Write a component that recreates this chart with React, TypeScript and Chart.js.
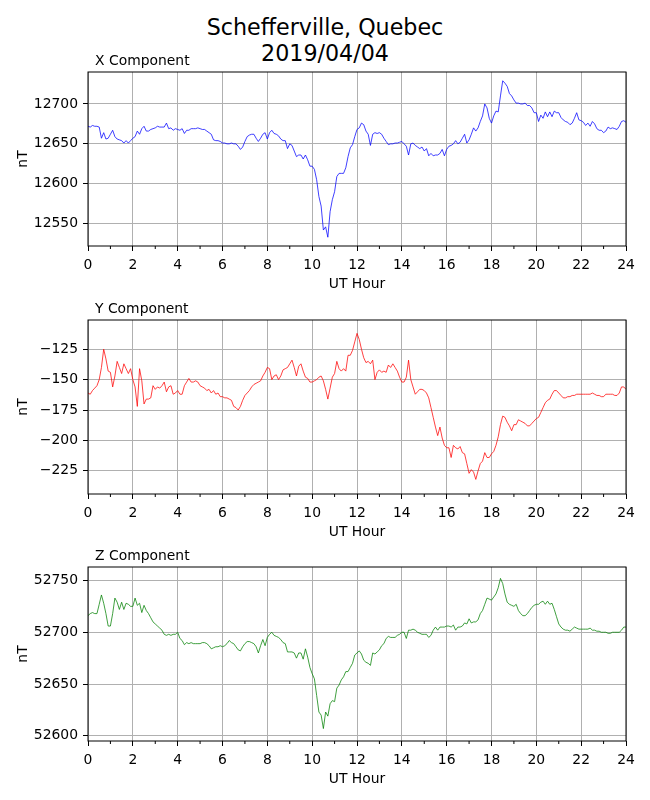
import React, { useEffect, useRef } from 'react';
import { Chart, registerables } from 'chart.js';

Chart.register(...registerables);

// samples every 6 minutes, 00:00 to 24:00 UT
const STEP_HOURS = 0.1;

const HOUR_TICKS = [0, 2, 4, 6, 8, 10, 12, 14, 16, 18, 20, 22, 24];
const MINOR_HOUR_TICKS = [1, 3, 5, 7, 9, 11, 13, 15, 17, 19, 21, 23];

const X_TICKS = [12550, 12600, 12650, 12700];
const Y_TICKS = [-225, -200, -175, -150, -125];
const Z_TICKS = [52600, 52650, 52700, 52750];

const X_VALUES = [
  12672, 12671, 12673, 12672, 12672, 12671, 12657, 12664, 12656, 12657,
  12662, 12667, 12659, 12656, 12655, 12654, 12651, 12654, 12651, 12654,
  12657, 12659, 12666, 12662, 12669, 12672, 12666, 12666, 12668, 12669,
  12670, 12672, 12671, 12671, 12671, 12676, 12669, 12670, 12667, 12669,
  12668, 12667, 12669, 12663, 12667, 12667, 12669, 12669, 12669, 12670,
  12669, 12668, 12668, 12666, 12664, 12662, 12655, 12654, 12654, 12653,
  12651, 12651, 12650, 12650, 12651, 12650, 12650, 12647, 12643, 12646,
  12653, 12659, 12661, 12662, 12662, 12657, 12653, 12657, 12662, 12664,
  12656, 12664, 12667, 12663, 12662, 12660, 12656, 12654, 12654, 12644,
  12650, 12648, 12641, 12634, 12636, 12636, 12631, 12636, 12630, 12622,
  12622, 12618, 12605, 12584, 12572, 12542, 12546, 12533, 12565, 12580,
  12590, 12609, 12613, 12613, 12613, 12620, 12634, 12645, 12649, 12659,
  12668, 12670, 12676, 12674, 12666, 12662, 12648, 12662, 12664, 12663,
  12664, 12662, 12657, 12653, 12649, 12650, 12650, 12651, 12651, 12652,
  12653, 12650, 12647, 12636, 12650, 12651, 12648, 12646, 12644, 12646,
  12641, 12644, 12635, 12638, 12635, 12636, 12636, 12638, 12643, 12635,
  12643, 12647, 12648, 12650, 12654, 12650, 12652, 12657, 12662, 12651,
  12655, 12662, 12670, 12666, 12670, 12678, 12685, 12700, 12695, 12682,
  12676, 12685, 12691, 12690, 12710, 12729, 12726, 12722, 12713, 12710,
  12705, 12701, 12701, 12700, 12700, 12701, 12698, 12698, 12695, 12689,
  12689, 12678, 12686, 12682, 12690, 12684, 12690, 12684, 12691, 12689,
  12689, 12683, 12680, 12678, 12677, 12674, 12676, 12682, 12689, 12680,
  12679, 12677, 12673, 12676, 12672, 12678, 12675, 12669, 12667, 12667,
  12664, 12666, 12671, 12669, 12670, 12669, 12668, 12672, 12678, 12679,
  12677,
];

const Y_VALUES = [
  -161, -162, -159, -157, -155, -150, -140, -125, -133, -143,
  -144, -156, -147, -135, -140, -145, -137, -141, -145, -141,
  -150, -156, -172, -141, -151, -170, -166, -166, -165, -155,
  -158, -156, -157, -155, -152, -160, -156, -155, -162, -161,
  -159, -162, -162, -155, -152, -149, -152, -152, -151, -152,
  -155, -156, -157, -159, -158, -161, -159, -162, -161, -164,
  -164, -165, -165, -166, -167, -172, -173, -175, -172, -167,
  -163, -161, -159, -156, -154, -153, -152, -151, -147, -144,
  -140, -141, -150, -147, -146, -150, -147, -142, -141, -140,
  -137, -134, -140, -147, -139, -137, -143, -148, -149, -152,
  -152, -151, -150, -148, -147, -151, -158, -166, -157, -148,
  -145, -135, -141, -143, -141, -143, -130, -130, -126, -119,
  -112, -117, -125, -132, -136, -135, -137, -134, -150, -144,
  -142, -144, -143, -144, -138, -140, -137, -140, -143, -148,
  -152, -152, -148, -134, -150, -156, -162, -160, -158, -158,
  -159, -161, -165, -173, -181, -189, -196, -189, -198, -204,
  -206, -206, -214, -204, -206, -207, -205, -210, -211, -219,
  -227, -224, -226, -232, -225, -219, -217, -210, -214, -214,
  -211, -209, -204, -197, -187, -180, -181, -185, -188, -192,
  -187, -187, -183, -184, -185, -186, -188, -188, -186, -184,
  -182, -181, -177, -173, -169, -167, -166, -162, -159, -159,
  -161, -163, -165, -165, -164, -164, -163, -163, -162, -162,
  -162, -162, -162, -162, -162, -161, -162, -163, -163, -164,
  -164, -162, -162, -162, -162, -163, -163, -161, -156, -156,
  -158,
];

const Z_VALUES = [
  52716, 52718, 52719, 52718, 52718, 52727, 52736, 52728, 52718, 52706,
  52706, 52718, 52733, 52729, 52722, 52729, 52722, 52728, 52727, 52725,
  52725, 52733, 52726, 52728, 52719, 52726, 52721, 52718, 52714, 52710,
  52708, 52706, 52704, 52702, 52698, 52697, 52698, 52697, 52698, 52698,
  52700, 52694, 52692, 52688, 52690, 52689, 52690, 52689, 52689, 52689,
  52689, 52690, 52690, 52689, 52687, 52684, 52685, 52686, 52686, 52687,
  52686, 52687, 52689, 52692, 52690, 52689, 52686, 52683, 52682, 52686,
  52689, 52691, 52691, 52690, 52689, 52686, 52680, 52687, 52693, 52687,
  52695, 52698, 52700, 52697, 52696, 52695, 52693, 52690, 52689, 52681,
  52681, 52681, 52680, 52675, 52680, 52680, 52674, 52684, 52676, 52666,
  52660, 52655, 52639, 52623, 52620, 52607, 52623, 52619, 52631, 52634,
  52633, 52646, 52649, 52654, 52657, 52662, 52662, 52666, 52670, 52678,
  52680, 52682, 52679, 52673, 52671, 52670, 52668, 52680, 52679, 52681,
  52683, 52687, 52689, 52694, 52696, 52695, 52695, 52695, 52697, 52698,
  52700, 52700, 52694, 52702, 52702, 52703, 52702, 52700, 52699, 52698,
  52698, 52698, 52695, 52697, 52702, 52705, 52702, 52705, 52705, 52705,
  52706, 52706, 52705, 52707, 52702, 52705, 52705, 52706, 52709, 52708,
  52713, 52709, 52710, 52710, 52712, 52718, 52721, 52727, 52733, 52732,
  52731, 52734, 52737, 52743, 52752, 52747, 52737, 52729, 52727, 52726,
  52725, 52727, 52721, 52718, 52716, 52716, 52718, 52721, 52724, 52726,
  52727, 52727, 52729, 52730, 52727, 52730, 52727, 52728, 52722, 52715,
  52708, 52705, 52703, 52702, 52702, 52701, 52703, 52705, 52704, 52703,
  52703, 52703, 52703, 52703, 52704, 52702, 52702, 52701, 52701, 52700,
  52700, 52700, 52699, 52699, 52700, 52700, 52700, 52700, 52702, 52705,
  52705,
];

const FONT = 'DejaVu Sans';
const TEXT_SIZE = 13.9;
const GRID_GREY = '#b0b0b0';

// each panel canvas: room above the plot for the label, room below for the x axis
const TOP_ROOM = 30;
const PLOT_HEIGHT = 174;
const AXIS_ROOM = 47;
const Y_AXIS_WIDTH = 88;
const RIGHT_ROOM = 24;

const fmtTick = (v: number) => (v < 0 ? '\u2212' + Math.abs(v) : String(v));

// box round the plot, minor hour ticks and the "X Component" label
const panelDecor = {
  id: 'panelDecor',
  afterDraw(chart: any, _args: any, opts: any) {
    const { ctx, chartArea: a, scales } = chart;
    ctx.save();
    ctx.strokeStyle = '#000';
    ctx.lineWidth = 1;
    ctx.strokeRect(a.left, a.top, a.right - a.left, a.bottom - a.top);
    ctx.beginPath();
    for (const h of MINOR_HOUR_TICKS) {
      const px = scales.x.getPixelForValue(h);
      ctx.moveTo(px, a.bottom);
      ctx.lineTo(px, a.bottom + 3);
    }
    ctx.stroke();
    ctx.fillStyle = '#000';
    ctx.font = `${TEXT_SIZE}px "${FONT}"`;
    ctx.textAlign = 'left';
    ctx.textBaseline = 'middle';
    ctx.fillText(opts.text, a.left + 7, a.top - 11);
    ctx.restore();
  },
};

type PanelProps = {
  top: number;
  label: string;
  values: number[];
  color: string;
  yMin: number;
  yMax: number;
  yTicks: number[];
};

const Panel: React.FC<PanelProps> = ({ top, label, values, color, yMin, yMax, yTicks }) => {
  const canvasRef = useRef<HTMLCanvasElement>(null);
  const chartInstance = useRef<Chart | null>(null);

  useEffect(() => {
    const ctx = canvasRef.current?.getContext('2d');
    if (!ctx) return;
    if (chartInstance.current) chartInstance.current.destroy();

    const font = { family: FONT, size: TEXT_SIZE };
    const grid = { color: GRID_GREY, lineWidth: 1, tickColor: '#000', tickLength: 5, tickWidth: 1 };

    chartInstance.current = new Chart(ctx, {
      type: 'line',
      data: {
        datasets: [
          {
            data: values.map((v, i) => ({ x: i * STEP_HOURS, y: v })),
            borderColor: color,
            borderWidth: 0.75,
            pointRadius: 0,
            tension: 0,
            fill: false,
          },
        ],
      },
      plugins: [panelDecor],
      options: {
        animation: false,
        responsive: true,
        maintainAspectRatio: false,
        layout: { padding: { left: 0, right: RIGHT_ROOM, top: TOP_ROOM, bottom: 0 } },
        plugins: {
          legend: { display: false },
          tooltip: { enabled: false },
          panelDecor: { text: label },
        } as any,
        scales: {
          x: {
            type: 'linear',
            min: 0,
            max: 24,
            afterBuildTicks: (s: any) => {
              s.ticks = HOUR_TICKS.map((v) => ({ value: v }));
            },
            afterFit: (s: any) => {
              s.height = AXIS_ROOM;
            },
            grid,
            border: { display: false },
            ticks: {
              color: '#000',
              font,
              padding: 6,
              maxRotation: 0,
              autoSkip: false,
              callback: (v: any) => String(v),
            },
            title: { display: true, text: 'UT Hour', color: '#000', font, padding: 0 },
          },
          y: {
            type: 'linear',
            min: yMin,
            max: yMax,
            afterBuildTicks: (s: any) => {
              s.ticks = yTicks.map((v) => ({ value: v }));
            },
            afterFit: (s: any) => {
              s.width = Y_AXIS_WIDTH;
            },
            grid,
            border: { display: false },
            ticks: { color: '#000', font, padding: 5, callback: (v: any) => fmtTick(Number(v)) },
            title: { display: true, text: 'nT', color: '#000', font, padding: { top: 15, bottom: 0 } },
          },
        },
      },
    });

    return () => {
      if (chartInstance.current) {
        chartInstance.current.destroy();
        chartInstance.current = null;
      }
    };
  }, [label, values, color, yMin, yMax, yTicks]);

  return (
    <div
      style={{
        position: 'absolute',
        left: 0,
        top: top - TOP_ROOM,
        width: 650,
        height: TOP_ROOM + PLOT_HEIGHT + AXIS_ROOM,
      }}
    >
      <canvas ref={canvasRef}></canvas>
    </div>
  );
};

export default function App() {
  return (
    <div
      style={{
        position: 'absolute',
        left: 0,
        top: 0,
        width: 650,
        height: 800,
        background: '#fff',
        fontFamily: FONT,
      }}
    >
      <div
        style={{
          position: 'absolute',
          left: 0,
          top: 14,
          width: 650,
          textAlign: 'center',
          fontSize: 22.2,
          lineHeight: '26px',
          color: '#000',
        }}
      >
        <div>Schefferville, Quebec</div>
        <div>2019/04/04</div>
      </div>
      <Panel top={72} label="X Component" values={X_VALUES} color="#0000ff" yMin={12522} yMax={12740} yTicks={X_TICKS} />
      <Panel top={320} label="Y Component" values={Y_VALUES} color="#ff0000" yMin={-244} yMax={-101} yTicks={Y_TICKS} />
      <Panel top={567} label="Z Component" values={Z_VALUES} color="#008000" yMin={52595} yMax={52763} yTicks={Z_TICKS} />
    </div>
  );
}
